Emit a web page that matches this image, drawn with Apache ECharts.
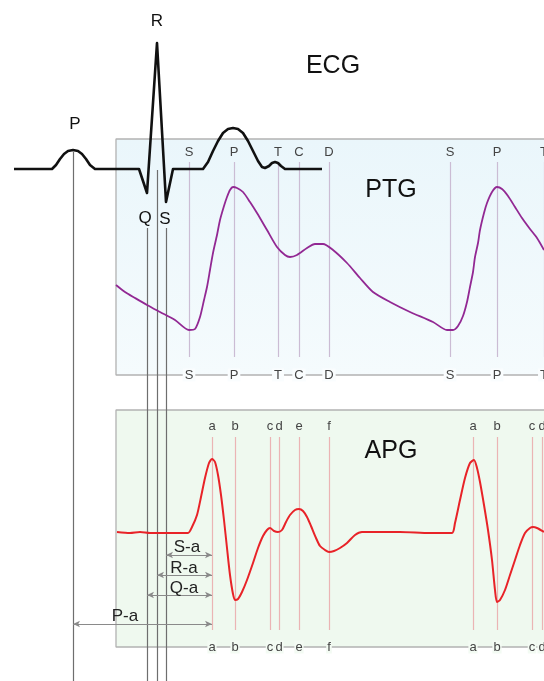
<!DOCTYPE html>
<html>
<head>
<meta charset="utf-8">
<script src="https://cdn.jsdelivr.net/npm/echarts@6/dist/echarts.min.js"></script>
<style>
html, body { margin: 0; padding: 0; background: #fff; }
#chart { width: 544px; height: 681px; }
</style>
</head>
<body>
<div id="chart"></div>
<script>
// traces, in pixel units of the 544x681 sheet
var ecgTrace = [
    [14, 169], [52, 169], [56, 165], [60, 159], [64, 154], [68, 151], [73, 150], [78, 151],
    [82, 154], [86, 159], [90, 165], [95, 169], [139, 169], [147, 193], [157, 43], [166, 202],
    [173, 169], [203, 169], [208, 162], [213, 151], [218, 141], [223, 133], [228, 129], [233, 128],
    [238, 129], [243, 133], [248, 141], [253, 151], [258, 161], [262, 167], [265, 168], [269, 166],
    [272, 163], [275, 162], [278, 163], [281, 166], [285, 169], [322, 169]
];

var ptgTrace = [
    [116, 285], [125, 292], [135, 298], [147, 305], [160, 312], [175, 320], [189, 330], [195, 329],
    [200, 317], [204, 300], [207, 287], [210, 270], [213, 253], [217, 235], [220, 220], [224, 206],
    [227, 197], [230, 190], [233, 187], [237, 188], [243, 192], [250, 202], [257, 213], [267, 230],
    [277, 247], [285, 255], [290, 257], [297, 255], [307, 248], [315, 244], [323, 244], [333, 250],
    [347, 263], [360, 278], [373, 292], [390, 302], [410, 312], [433, 322], [447, 330], [453, 330],
    [458, 326], [463, 316], [467, 302], [470, 287], [473, 272], [475, 257], [478, 243], [480, 230],
    [484, 213], [487, 203], [492, 192], [497, 187], [502, 189], [508, 196], [515, 207], [522, 218],
    [530, 229], [537, 238], [544, 250]
];

var apgTrace = [
    [117, 532], [130, 533], [140, 532], [150, 533], [165, 533], [188, 533], [192, 527], [197, 515],
    [201, 497], [205, 478], [209, 463], [212, 459], [215, 462], [218, 475], [221, 495], [224, 520],
    [227, 548], [230, 575], [233, 594], [235, 600], [238, 599], [242, 592], [247, 580], [253, 563],
    [258, 548], [263, 536], [267, 530], [270, 528], [274, 531], [278, 532], [282, 530], [286, 522],
    [290, 515], [295, 510], [299, 509], [303, 511], [307, 517], [311, 526], [316, 538], [320, 546],
    [325, 550], [329, 552], [334, 551], [340, 548], [347, 543], [355, 535], [362, 532], [400, 532],
    [430, 533], [452, 533], [455, 523], [460, 500], [465, 478], [470, 463], [474, 460], [477, 468],
    [480, 482], [484, 505], [488, 530], [492, 560], [495, 590], [497, 602], [500, 600], [505, 590],
    [510, 575], [515, 560], [520, 545], [525, 533], [530, 528], [533, 527], [537, 528], [544, 532]
];

var ptgMarkX = [189, 234, 278, 299, 329, 450, 497, 544];
var ptgMarkNames = ['S', 'P', 'T', 'C', 'D', 'S', 'P', 'T'];
var apgMarkX = [212, 235, 270, 279, 299, 329, 473, 497, 532, 542];
var apgMarkNames = ['a', 'b', 'c', 'd', 'e', 'f', 'a', 'b', 'c', 'd'];

var ecgMarkX = [73, 147, 157, 166];
var ecgMarkTop = [152, 228, 170, 228];
var ecgWaveNames = ['P', 'Q', 'R', 'S'];
var ecgWaveSpots = [[75, 124], [145, 218], [157, 21], [165, 219]];

var intervalNames = ['S-a', 'R-a', 'Q-a', 'P-a'];
var intervalFrom = [166, 157, 147, 73];
var intervalTo = 212;
var intervalY = [555, 575, 595, 624];
var intervalSpots = [[187, 547], [184, 568], [184, 588], [125, 616]];

var panelNames = ['ECG', 'PTG', 'APG'];
var panelSpots = [[333, 66], [391, 190], [391, 451]];

var ptgBox = [116, 139, 544, 375];
var apgBox = [116, 410, 544, 647];

var myChart = echarts.init(document.getElementById('chart'));
var font = 'Liberation Sans';

function frame(box) {
    return [[box[2], box[1]], [box[0], box[1]], [box[0], box[3]], [box[2], box[3]]];
}

function textSeries(items, size, color, extra) {
    return {
        type: 'scatter',
        symbolSize: 1,
        silent: true,
        z: 20,
        itemStyle: { color: 'transparent', opacity: 1 },
        data: items,
        label: Object.assign({
            show: true,
            position: 'inside',
            formatter: '{b}',
            fontSize: size,
            color: color,
            opacity: 1,
            textBorderWidth: 0,
            fontFamily: font
        }, extra || {})
    };
}

function marks(xs, names, y) {
    return xs.map(function (x, i) { return { name: names[i], value: [x, y] }; });
}

var option = {
    animation: false,
    grid: { left: 0, right: 0, top: 0, bottom: 0 },
    xAxis: { type: 'value', min: 0, max: 544, show: false },
    yAxis: { type: 'value', min: 0, max: 681, inverse: true, show: false },
    series: [
        {
            // PTG panel
            type: 'line',
            data: frame(ptgBox),
            symbol: 'none',
            silent: true,
            z: 2,
            lineStyle: { color: '#b2b2b2', width: 1.3 },
            markArea: {
                silent: true,
                itemStyle: {
                    color: new echarts.graphic.LinearGradient(0, 0, 0, 1, [
                        { offset: 0, color: '#eaf6fb' },
                        { offset: 1, color: '#f5fbfd' }
                    ])
                },
                data: [[{ coord: [ptgBox[0], ptgBox[1]] }, { coord: [ptgBox[2], ptgBox[3]] }]]
            },
            markLine: {
                silent: true,
                symbol: 'none',
                label: { show: false },
                lineStyle: { color: '#cbbcd4', width: 1.2, type: 'solid' },
                data: ptgMarkX.map(function (x) { return [{ coord: [x, 162] }, { coord: [x, 357] }]; })
            }
        },
        {
            // APG panel
            type: 'line',
            data: frame(apgBox),
            symbol: 'none',
            silent: true,
            z: 2,
            lineStyle: { color: '#b2b2b2', width: 1.3 },
            markArea: {
                silent: true,
                itemStyle: { color: '#eff9ef' },
                data: [[{ coord: [apgBox[0], apgBox[1]] }, { coord: [apgBox[2], apgBox[3]] }]]
            },
            markLine: {
                silent: true,
                symbol: 'none',
                label: { show: false },
                lineStyle: { color: '#ebb4b4', width: 1.2, type: 'solid' },
                data: apgMarkX.map(function (x) { return [{ coord: [x, 437] }, { coord: [x, 630] }]; })
            }
        },
        {
            // ECG drop lines and the interval arrows
            type: 'line',
            data: [],
            symbol: 'none',
            silent: true,
            z: 4,
            markLine: {
                silent: true,
                symbol: 'none',
                label: { show: false },
                lineStyle: { color: '#6e6e6e', width: 1.2, type: 'solid' },
                data: ecgMarkX.map(function (x, i) {
                    return [{ coord: [x, ecgMarkTop[i]] }, { coord: [x, 681] }];
                }).concat(intervalFrom.map(function (x, i) {
                    return [
                        { coord: [x, intervalY[i]], symbol: 'arrow', symbolSize: [5, 7] },
                        { coord: [intervalTo, intervalY[i]], symbol: 'arrow', symbolSize: [5, 7],
                          lineStyle: { color: '#8a8a8a', width: 1 } }
                    ];
                }))
            }
        },
        {
            name: 'PTG',
            type: 'line',
            data: ptgTrace,
            symbol: 'none',
            smooth: 0.25,
            silent: true,
            z: 6,
            lineStyle: { color: '#922893', width: 1.8 }
        },
        {
            name: 'APG',
            type: 'line',
            data: apgTrace,
            symbol: 'none',
            smooth: 0.25,
            silent: true,
            z: 6,
            lineStyle: { color: '#e82328', width: 2 }
        },
        {
            name: 'ECG',
            type: 'line',
            data: ecgTrace,
            symbol: 'none',
            silent: true,
            z: 8,
            lineStyle: { color: '#111', width: 2.6, join: 'round' }
        },
        textSeries(marks(ptgMarkX, ptgMarkNames, 152), 13, '#444'),
        textSeries(marks(ptgMarkX, ptgMarkNames, 375), 13, '#444',
            { backgroundColor: '#fafdfe', padding: [0, 2] }),
        textSeries(marks(apgMarkX, apgMarkNames, 426), 13, '#444'),
        textSeries(marks(apgMarkX, apgMarkNames, 647), 13, '#444',
            { backgroundColor: '#f3fbf3', padding: [0, 1] }),
        textSeries(ecgWaveSpots.map(function (p, i) { return { name: ecgWaveNames[i], value: p }; }), 17, '#111'),
        textSeries(intervalSpots.map(function (p, i) { return { name: intervalNames[i], value: p }; }), 17, '#222'),
        textSeries(panelSpots.map(function (p, i) { return { name: panelNames[i], value: p }; }), 25, '#111')
    ]
};

myChart.setOption(option);
</script>
</body>
</html>
